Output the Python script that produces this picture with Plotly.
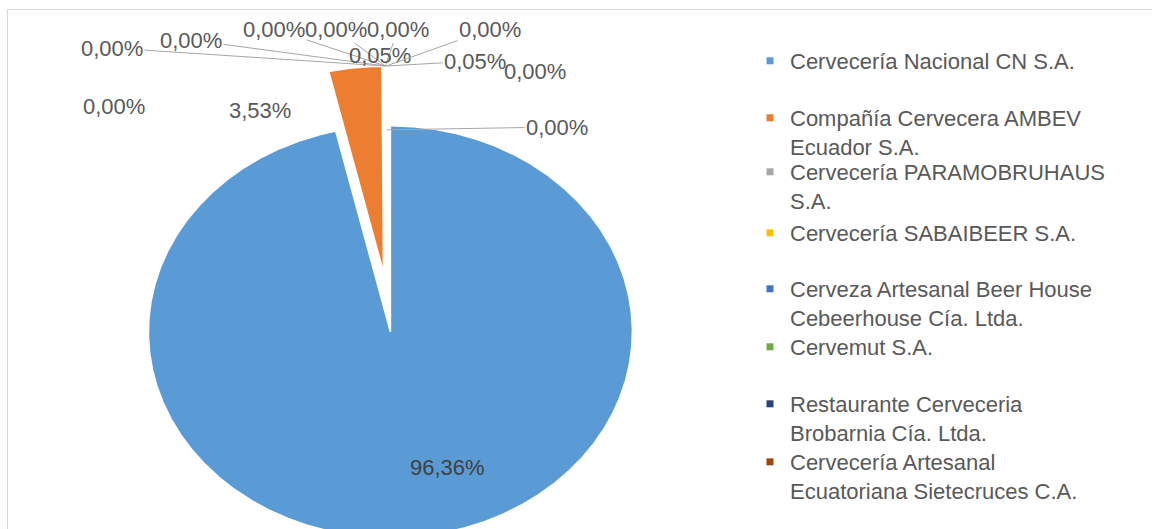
import textwrap
import numpy as np
import plotly.graph_objects as go

# ---------------- data ----------------
legend_names = [
    "Cervecería Nacional CN S.A.",
    "Compañía Cervecera AMBEV Ecuador S.A.",
    "Cervecería PARAMOBRUHAUS S.A.",
    "Cervecería SABAIBEER S.A.",
    "Cerveza Artesanal Beer House Cebeerhouse Cía. Ltda.",
    "Cervemut S.A.",
    "Restaurante Cerveceria Brobarnia Cía. Ltda.",
    "Cervecería Artesanal Ecuatoriana Sietecruces C.A.",
]
# share (%) of each of the 13 slices, clockwise from 12 o'clock
values = [96.36, 3.53, 0.00, 0.00, 0.00, 0.00, 0.00, 0.00, 0.05, 0.00, 0.05, 0.00, 0.00]

# ---------------- style ----------------
palette = ["#5B9BD5", "#ED7D31", "#A5A5A5", "#FFC000", "#4472C4", "#70AD47",
           "#264478", "#9E480E", "#636363", "#997300", "#255E91", "#43682B", "#698ED0"]
FONT = "Liberation Sans, Arial, sans-serif"
TXT = "#595959"
W, H = 1152, 529
C0 = (387.0, 302.0)     # pie centre (axis units = px)
RX, RY = 242.0, 206.0   # pie radii
PULL = 30.0             # explosion distance

# data-label placement (Excel "best fit" look) and leader-line options
label_pos = [(447, 467), (260, 110), (114, 106), (112, 48), (191, 40), (274, 29),
             (336, 29), (398, 29), (380, 55), (490, 29), (475, 61), (535, 71), (557, 127)]
leader = [False, False, False, True, True, True, True, True, False, True, True, False, True]
leader_reach = [1, 1, 1, 1, 1, 1, 1, 1, 1, 1, 1, 1, 0.69]
legend_first_line_y = [62, 119, 173, 234, 290, 348, 405, 463]
legend_text_x = 790

# ---------------- figure ----------------
total = sum(values)
cum = np.concatenate([[0.0], np.cumsum(values)]) / total * 2 * np.pi

fig = go.Figure()
annotations = []
for i, v in enumerate(values):
    a0, a1 = cum[i], cum[i + 1]
    m = (a0 + a1) / 2
    cx = C0[0] + PULL * np.sin(m)
    cy = C0[1] - PULL * np.cos(m)
    if v > 0:
        t = np.linspace(a0, a1, max(3, int((a1 - a0) / 0.005)))
        xs = np.concatenate([[cx], cx + RX * np.sin(t), [cx]])
        ys = np.concatenate([[cy], cy - RY * np.cos(t), [cy]])
        fig.add_trace(go.Scatter(
            x=xs, y=ys, mode="lines", fill="toself", fillcolor=palette[i],
            line=dict(color="white", width=1.5), showlegend=False, hoverinfo="skip"))
    label = f"{v:.2f}".replace(".", ",") + "%"
    lx, ly = label_pos[i]
    color = "#404040" if i == 0 else TXT
    if leader[i]:
        f = leader_reach[i]
        tx = cx + f * RX * np.sin(m)
        ty = cy - f * RY * np.cos(m)
        annotations.append(dict(
            x=tx, y=ty, xref="x", yref="y", ax=lx, ay=ly, axref="x", ayref="y",
            text=label, showarrow=True, arrowhead=0, arrowwidth=1,
            arrowcolor="#A6A6A6", standoff=0, startstandoff=0,
            font=dict(family=FONT, size=22, color=color)))
    else:
        annotations.append(dict(
            x=lx, y=ly, xref="x", yref="y", text=label, showarrow=False,
            xanchor="center", yanchor="middle",
            font=dict(family=FONT, size=22, color=color)))

# legend: one legend box per entry so rows sit where Excel put them
legend_layout = {}
for k, name in enumerate(legend_names):
    key = "legend" if k == 0 else f"legend{k + 1}"
    fig.add_trace(go.Scatter(
        x=[None], y=[None], mode="markers", name="<br>".join(textwrap.wrap(name, 28)),
        marker=dict(symbol="square", size=7, color=palette[k]),
        legend=key, showlegend=True, hoverinfo="skip"))
    legend_layout[key] = dict(
        x=(legend_text_x - 40) / W, xanchor="left",
        y=1 - (legend_first_line_y[k] - 22) / H, yanchor="top",
        bgcolor="rgba(0,0,0,0)", borderwidth=0, valign="top",
        font=dict(family=FONT, size=22, color=TXT),
        itemclick=False, itemdoubleclick=False)

fig.update_layout(
    width=W, height=H, margin=dict(l=0, r=0, t=0, b=0),
    paper_bgcolor="white", plot_bgcolor="white",
    xaxis=dict(range=[0, W], visible=False, fixedrange=True),
    yaxis=dict(range=[H, 0], visible=False, fixedrange=True),
    annotations=annotations,
    shapes=[dict(type="rect", xref="x", yref="y", x0=7.5, y0=9.5, x1=W + 20, y1=H + 20,
                 line=dict(color="#D9D9D9", width=1), layer="below")],
    **legend_layout,
)

fig.write_html("out.html")
